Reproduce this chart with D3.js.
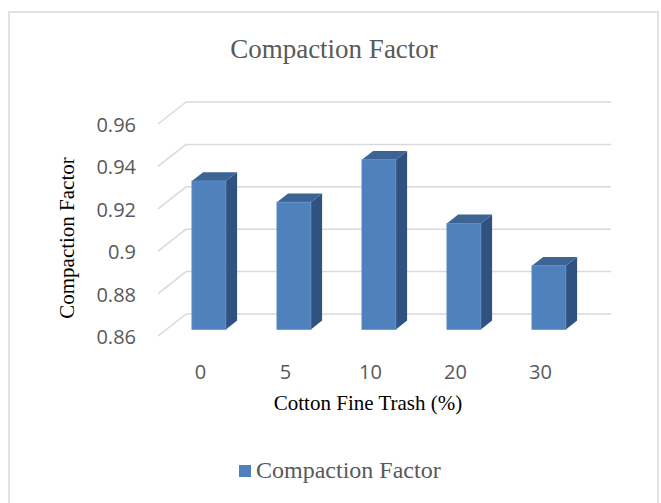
<!DOCTYPE html>
<html>
<head>
<meta charset="utf-8">
<script src="https://cdn.jsdelivr.net/npm/d3@7"></script>
<style>
  html, body { margin: 0; padding: 0; background: #ffffff; }
  svg { display: block; }
</style>
</head>
<body>
<div id="chart"></div>
<script>
// Compaction factor for each cotton fine trash level
const categories = ["0", "5", "10", "20", "30"];
const values = [0.93, 0.92, 0.94, 0.91, 0.89];
const tickValues = [0.86, 0.88, 0.90, 0.92, 0.94, 0.96];
const tickLabels = ["0.86", "0.88", "0.9", "0.92", "0.94", "0.96"];
const seriesName = "Compaction Factor";

const W = 661, H = 503;
const svg = d3.select("#chart").append("svg")
  .attr("width", W).attr("height", H);

// chart frame
svg.append("rect")
  .attr("x", 9).attr("y", 12)
  .attr("width", 649).attr("height", 520)
  .attr("fill", "#ffffff")
  .attr("stroke", "#d9d9d9").attr("stroke-width", 1.5);

// front plane scales
const x = d3.scaleBand().domain(categories)
  .range([158, 583]).paddingInner(0.6).paddingOuter(0.3);
const y = d3.scaleLinear().domain([0.86, 0.96]).range([336, 124]);

// depth of the 3D box
const depthX = 28, depthY = -22;
const barFrom = 0.3, barTo = 0.7;

// gridlines: diagonal on the side wall + horizontal on the back wall
const grid = svg.append("g");
tickValues.forEach(t => {
  const yf = y(t);
  grid.append("line")
    .attr("x1", x.range()[0]).attr("y1", yf)
    .attr("x2", x.range()[0] + depthX).attr("y2", yf + depthY)
    .attr("stroke", "#d9d9d9").attr("stroke-width", 1.5);
  grid.append("line")
    .attr("x1", x.range()[0] + depthX).attr("y1", yf + depthY)
    .attr("x2", x.range()[1] + depthX).attr("y2", yf + depthY)
    .attr("stroke", "#d9d9d9").attr("stroke-width", 1.5);
});

// 3D bars
const dx0 = depthX * barFrom, dy0 = depthY * barFrom;
const dd = depthX * (barTo - barFrom), ddy = depthY * (barTo - barFrom);
const bars = svg.append("g");
categories.forEach((c, i) => {
  const v = values[i];
  const x0 = x(c) + dx0, x1 = x0 + x.bandwidth();
  const yt = y(v) + dy0, yb = y(0.86) + dy0;
  const g = bars.append("g");
  g.append("polygon")
    .attr("points", [[x1, yt], [x1 + dd, yt + ddy], [x1 + dd, yb + ddy], [x1, yb]].join(" "))
    .attr("fill", "#2f5281");
  g.append("polygon")
    .attr("points", [[x0, yt], [x0 + dd, yt + ddy], [x1 + dd, yt + ddy], [x1, yt]].join(" "))
    .attr("fill", "#3c6596");
  g.append("rect")
    .attr("x", x0).attr("y", yt)
    .attr("width", x1 - x0).attr("height", yb - yt)
    .attr("fill", "#4f81bd")
    .attr("stroke", "#5f8fc8").attr("stroke-width", 0.75);
});

// y axis labels
const yAxis = d3.axisLeft(y)
  .tickValues(tickValues)
  .tickFormat((d, i) => tickLabels[i])
  .tickSize(0).tickPadding(22);
const gy = svg.append("g")
  .attr("transform", `translate(${x.range()[0]},1)`)
  .call(yAxis);
gy.select(".domain").remove();
gy.selectAll("text")
  .attr("font-family", "'Open Sans', sans-serif")
  .attr("font-size", 20).attr("fill", "#595959");

// x axis labels
const xAxis = d3.axisBottom(x).tickSize(0).tickPadding(29);
const gx = svg.append("g")
  .attr("transform", `translate(0,${y(0.86)})`)
  .call(xAxis);
gx.select(".domain").remove();
gx.selectAll("text")
  .attr("font-family", "'Open Sans', sans-serif")
  .attr("font-size", 20).attr("fill", "#595959");

const serif = "'Liberation Serif', 'Times New Roman', serif";

// title
svg.append("text")
  .attr("x", 334).attr("y", 58)
  .attr("text-anchor", "middle")
  .attr("font-family", serif).attr("font-size", 27)
  .attr("fill", "#595959")
  .text("Compaction Factor");

// axis titles
svg.append("text")
  .attr("x", 368).attr("y", 410)
  .attr("text-anchor", "middle")
  .attr("font-family", serif).attr("font-size", 21)
  .attr("fill", "#000000")
  .text("Cotton Fine Trash (%)");

svg.append("text")
  .attr("transform", "translate(74,238) rotate(-90)")
  .attr("text-anchor", "middle")
  .attr("font-family", serif).attr("font-size", 21)
  .attr("fill", "#000000")
  .text("Compaction Factor");

// legend
const legend = svg.append("g");
legend.append("rect")
  .attr("x", 239).attr("y", 465)
  .attr("width", 12).attr("height", 12)
  .attr("fill", "#4f81bd");
legend.append("text")
  .attr("x", 256).attr("y", 478)
  .attr("font-family", serif).attr("font-size", 24)
  .attr("fill", "#595959")
  .text(seriesName);
</script>
</body>
</html>
